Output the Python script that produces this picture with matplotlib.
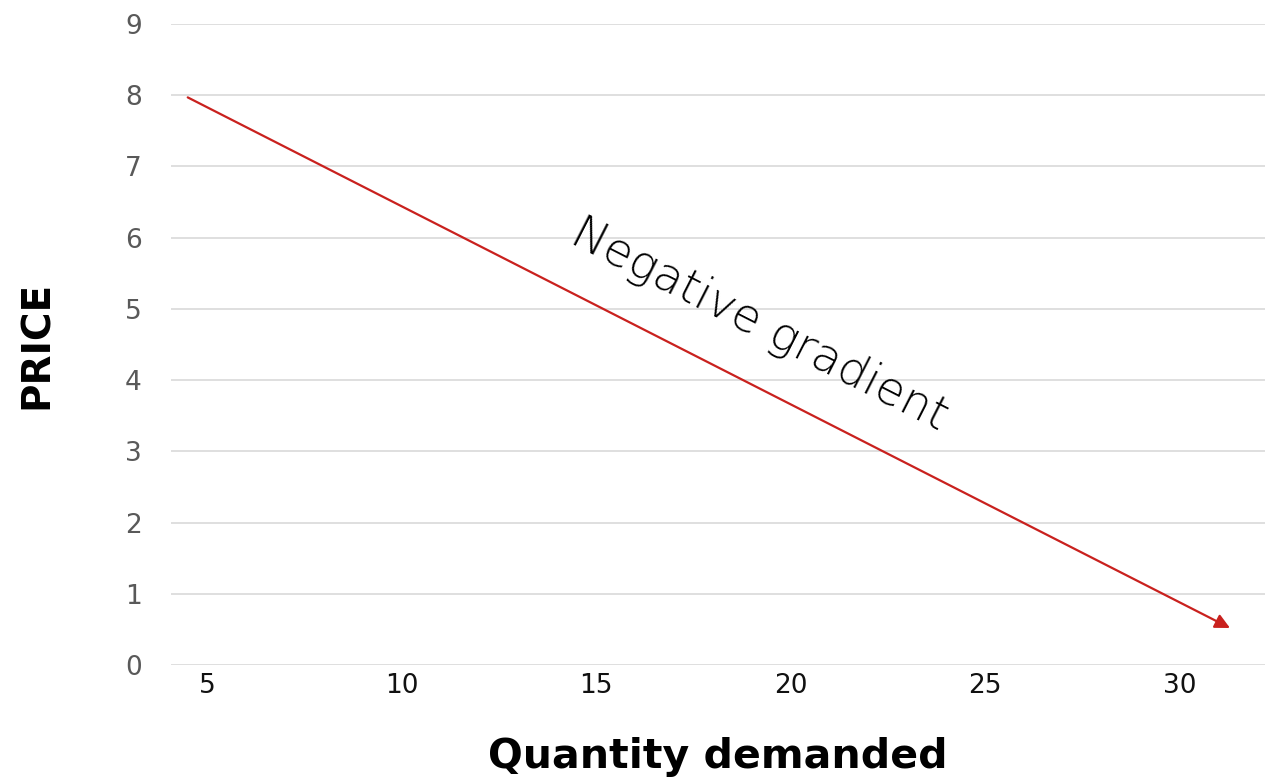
import matplotlib
matplotlib.use('Agg')
import matplotlib.pyplot as plt

# demand line endpoints (quantity, price)
QTY    = [4.5, 31.3]
PRICE  = [7.97, 0.52]
XTICKS = [5, 10, 15, 20, 25, 30]
YTICKS = list(range(0, 10))

RED  = '#c9211e'
GRID = '#d9d9d9'

plt.rcParams['font.family'] = ['DejaVu Sans']

fig = plt.figure(figsize=(12.81, 7.80), dpi=100)
ax = fig.add_axes([0.1335, 0.1474, 0.854, 0.8218])

ax.set_xlim(4.07, 32.2)
ax.set_ylim(0, 9)
ax.set_yticks(YTICKS)
ax.set_xticks(XTICKS)
ax.set_yticklabels([str(v) for v in YTICKS], color='#595959', fontsize=19)
ax.set_xticklabels([str(v) for v in XTICKS], color='#111111', fontsize=19)
ax.tick_params(axis='both', length=0)
ax.tick_params(axis='y', pad=21)
ax.tick_params(axis='x', pad=6)

for sp in ax.spines.values():
    sp.set_visible(False)
ax.grid(axis='y', color=GRID, lw=1.2, zorder=0)
ax.set_axisbelow(True)

ax.annotate('', xy=(QTY[1], PRICE[1]), xytext=(QTY[0], PRICE[0]),
            arrowprops=dict(arrowstyle='-|>', color=RED, lw=1.6,
                            mutation_scale=22, shrinkA=0, shrinkB=0),
            zorder=3)

ax.text(19.2, 4.78, 'Negative gradient', rotation=-27, rotation_mode='anchor',
        ha='center', va='center', fontsize=33.5, fontweight='light', color='black')

ax.set_ylabel('PRICE', fontsize=28, fontweight='bold', labelpad=50)
ax.set_xlabel('Quantity demanded', fontsize=29.5, fontweight='bold', labelpad=27)

fig.savefig('out.png', dpi=100, facecolor='white')
